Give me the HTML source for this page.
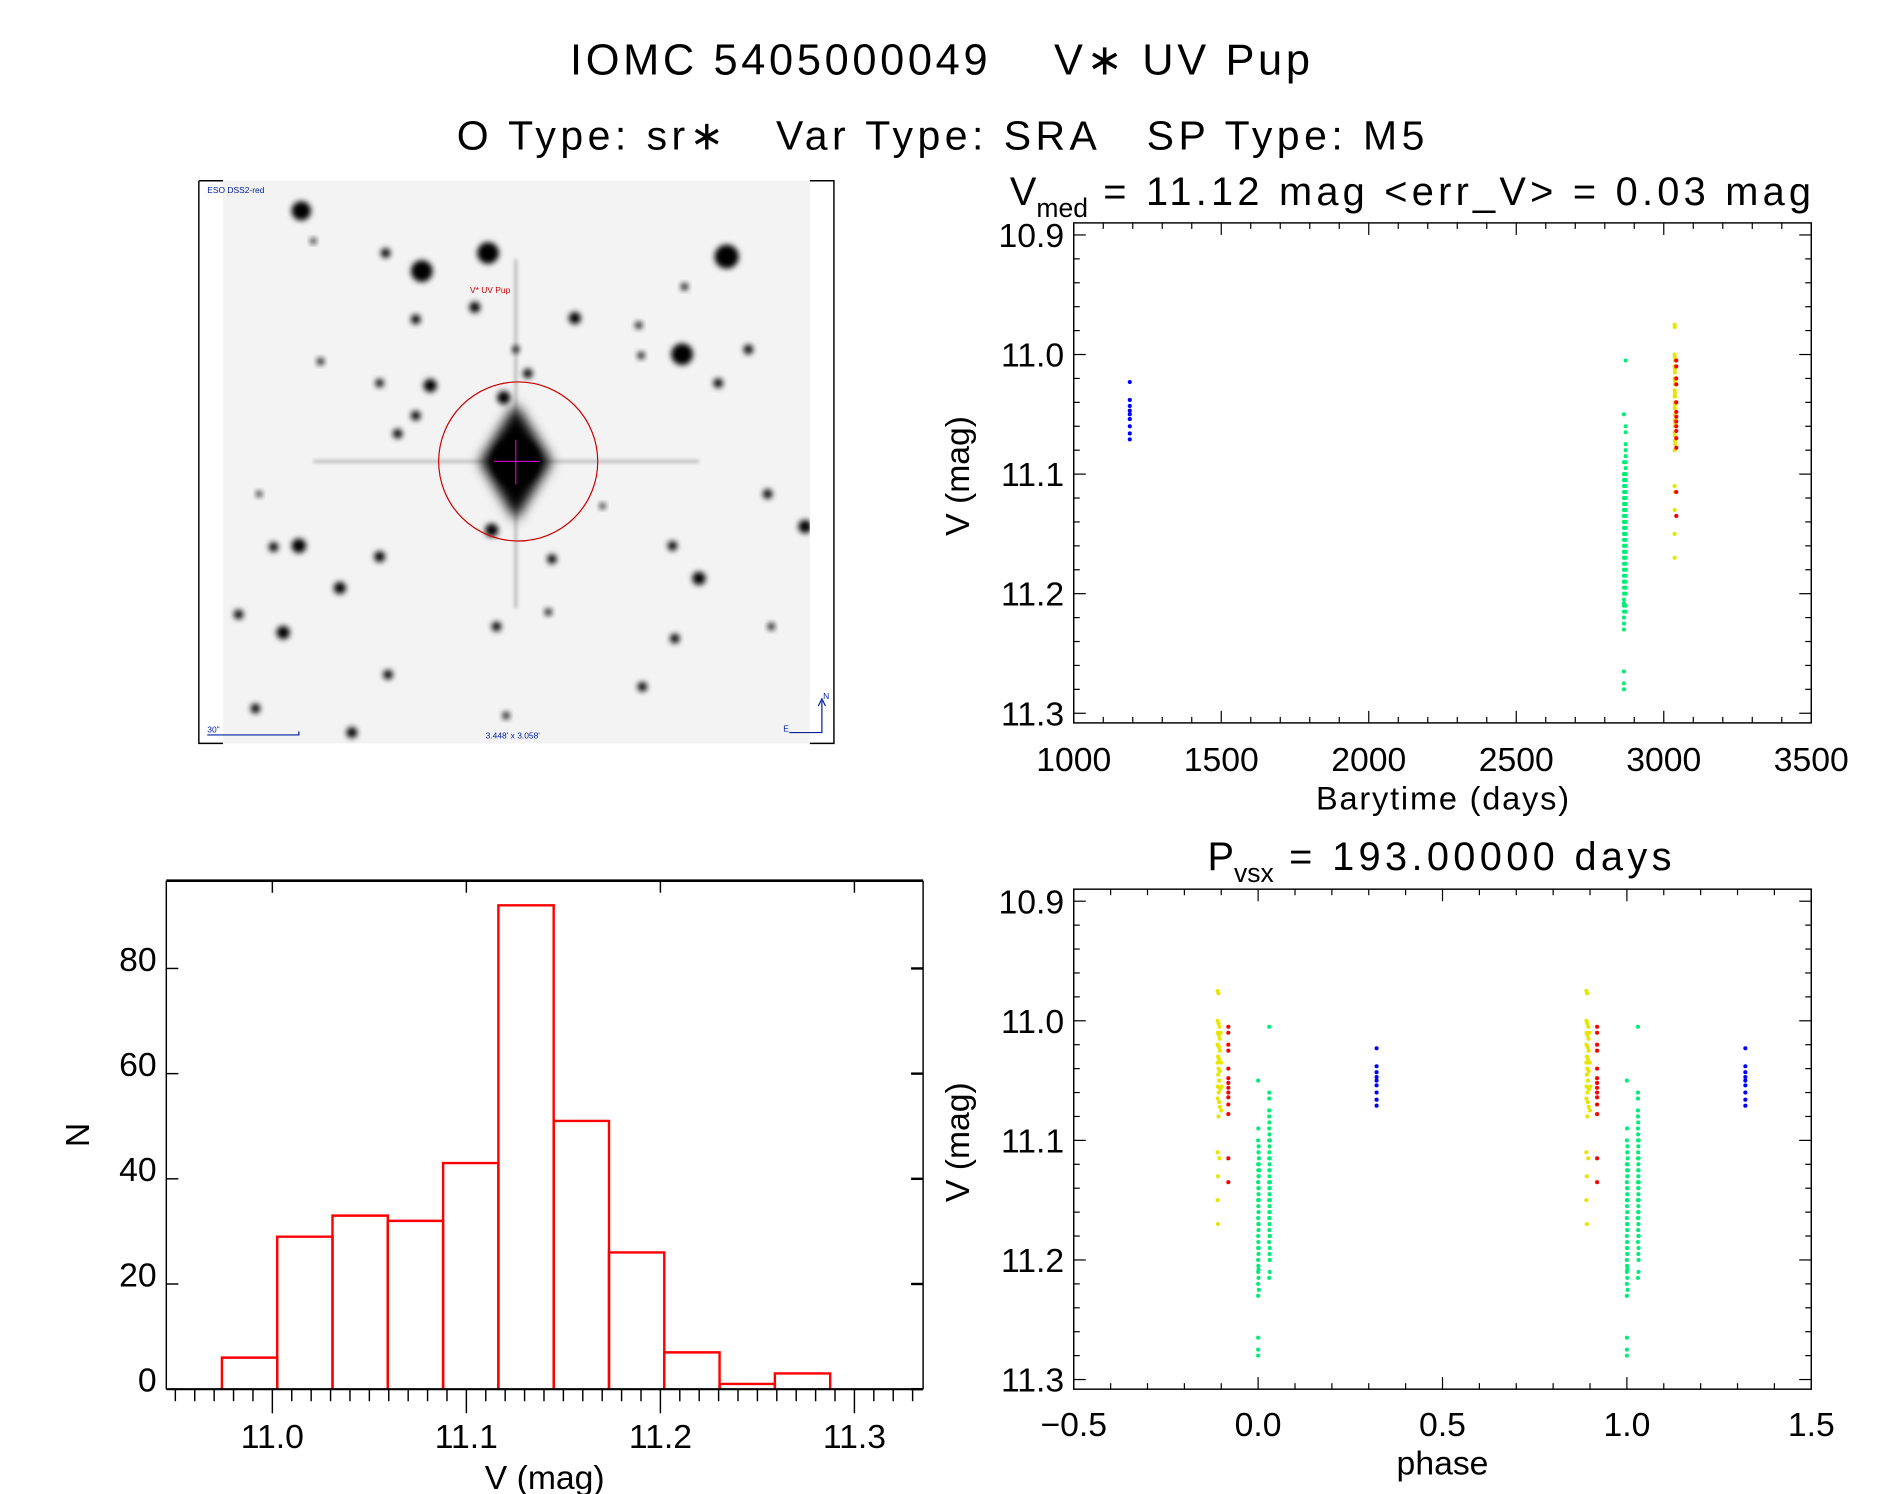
<!DOCTYPE html>
<html><head><meta charset="utf-8"><style>
html,body{margin:0;padding:0;background:#fff;}
svg{display:block;}
text{font-family:"Liberation Sans","DejaVu Sans",sans-serif;fill:#000;}
</style></head><body>
<svg id="fig" width="1889" height="1494" viewBox="0 0 1567.5 1240" preserveAspectRatio="none" xmlns="http://www.w3.org/2000/svg">
<defs>
<filter id="blur" x="-50%" y="-50%" width="200%" height="200%"><feGaussianBlur stdDeviation="2.4"/></filter>
<filter id="blur2" x="-50%" y="-50%" width="200%" height="200%"><feGaussianBlur stdDeviation="1.5"/></filter>
<filter id="blur3" x="-50%" y="-50%" width="200%" height="200%"><feGaussianBlur stdDeviation="5"/></filter>
<clipPath id="imgclip"><rect x="185" y="150" width="487" height="467"/></clipPath>
</defs>
<text x="473" y="62" font-size="36" textLength="614" lengthAdjust="spacing" xml:space="preserve">IOMC 5405000049    V∗ UV Pup</text>
<text x="379" y="124" font-size="34" textLength="803" lengthAdjust="spacing" xml:space="preserve">O Type: sr∗   Var Type: SRA   SP Type: M5</text>

<g id="sky">
<rect x="185" y="150" width="487" height="467" fill="#f3f3f3"/>
<g id="stars" clip-path="url(#imgclip)"></g>
<path d="M165 150 H185 M165 150 V617 H185 M672 150 H692 V617 H672" fill="none" stroke="#000" stroke-width="1.2"/>
<circle cx="430" cy="383" r="66" fill="none" stroke="#c00" stroke-width="1"/>
<path d="M410 383 H448 M428 365 V402" stroke="#c0c" stroke-width="1"/>
<text x="390" y="243" font-size="7" style="fill:#c00">V* UV Pup</text>
<text x="172" y="160" font-size="7" style="fill:#0020a0">ESO DSS2-red</text>
<text x="403" y="613" font-size="7" style="fill:#0020a0">3.448' x 3.058'</text>
<text x="172" y="608" font-size="7" style="fill:#0020a0">30"</text>
<path d="M172 610 H248 V607" stroke="#0020a0" fill="none" stroke-width="1"/>
<path d="M655 608 H682 V582 M679 586 L682 580 L685 586" stroke="#0020a0" fill="none" stroke-width="1"/>
<text x="683" y="580" font-size="7" style="fill:#0020a0">N</text>
<text x="650" y="607" font-size="7" style="fill:#0020a0">E</text>
</g>

<g id="lc"></g>
<g id="ph"></g>
<g id="hist"></g>
</svg>
<script>
// ---------- data ----------
const period = 193.0;
const epoch = 2865.0;
const blueObs = [[1190,11.023],[1190,11.038],[1190,11.043],[1190,11.047],[1190,11.050],[1190,11.054],[1190,11.060],[1190,11.066],[1190,11.071]];
const greenObs = [
[2865.0,11.05],[2865.1,11.09],[2865.0,11.10],[2865.2,11.11],[2865.0,11.12],[2865.1,11.125],[2865.2,11.13],[2865.0,11.135],[2865.1,11.14],[2865.2,11.145],
[2865.0,11.15],[2865.1,11.155],[2865.2,11.16],[2865.0,11.165],[2865.1,11.17],[2865.2,11.175],[2865.0,11.18],[2865.1,11.185],[2865.0,11.19],[2865.2,11.195],
[2865.0,11.20],[2865.1,11.205],[2865.0,11.21],[2865.0,11.22],[2865.2,11.215],[2865.0,11.23],[2865.0,11.265],[2865.0,11.275],[2865.0,11.28],[2865.3,11.105],
[2865.4,11.115],[2865.3,11.13],[2865.4,11.15],[2865.3,11.17],[2865.4,11.12],[2865.3,11.14],[2865.6,11.125],[2865.3,11.19],[2865.2,11.208],[2865.4,11.225],
[2870.8,11.005],[2870.8,11.06],[2870.8,11.065],[2870.8,11.075],[2870.8,11.08],[2870.8,11.09],[2870.9,11.095],[2870.8,11.10],[2871.0,11.105],[2870.9,11.11],
[2870.8,11.115],[2871.0,11.12],[2870.9,11.125],[2871.0,11.13],[2870.8,11.135],[2870.9,11.14],[2871.0,11.145],[2870.8,11.15],[2871.0,11.155],[2870.9,11.16],
[2870.8,11.165],[2871.0,11.17],[2870.9,11.175],[2871.0,11.18],[2870.8,11.185],[2871.2,11.10],[2871.1,11.14],[2871.2,11.18],[2871.1,11.2],[2871.1,11.19],
[2871.1,11.21],[2870.8,11.215],[2871.1,11.125],[2871.2,11.15],[2871.0,11.165],[2871.2,11.135],[2871.1,11.115],[2870.9,11.085],[2871.1,11.16],[2871.0,11.195]];
const yellowObs = [
[3036.8,10.975],[3037.2,10.977],[3036.8,11.0],[3037.3,11.002],[3037.8,11.005],[3036.9,11.01],[3037.4,11.012],[3037.9,11.015],[3036.8,11.02],[3037.5,11.022],
[3038.0,11.025],[3037.0,11.03],[3037.6,11.032],[3036.8,11.035],[3037.3,11.04],[3038.0,11.042],[3037.1,11.045],[3037.6,11.05],[3036.9,11.055],[3038.2,11.057],
[3037.4,11.06],[3036.8,11.065],[3037.6,11.068],[3038.0,11.072],[3037.3,11.08],[3036.8,11.11],[3037.8,11.115],[3037.0,11.13],[3036.8,11.15],[3037.0,11.17],
[3038.6,11.035],[3038.9,11.055],[3038.4,11.01],[3038.7,11.075]];
const redObs = [[3042.4,11.005],[3042.4,11.01],[3042.4,11.02],[3042.4,11.025],[3042.4,11.04],[3042.4,11.048],[3042.4,11.052],[3042.4,11.056],[3042.4,11.06],[3042.4,11.064],[3042.4,11.07],[3042.4,11.078],[3042.4,11.115],[3042.4,11.135]];
const lcXTicks = [1000,1500,2000,2500,3000,3500];
const magTicks = [10.9,11.0,11.1,11.2,11.3];
const phXTicks = [-0.5,0.0,0.5,1.0,1.5];
const histBinLefts = [10.974,11.0025,11.031,11.0595,11.088,11.1165,11.145,11.1735,11.202,11.2305,11.259];
const histBinWidth = 0.0285;
const histCounts = [6,29,33,32,43,92,51,26,7,1,3];
const histXTicks = [11.0,11.1,11.2,11.3];
const histYTicks = [0,20,40,60,80];
const stars = [[250,175,8],[350,225,9],[405,210,9],[603,213,10],[566,294,9],[477,264,5],[418,330,5.5],[408,440,5.5],[315,462,4.5],[248,453,6],[282,488,5],[235,525,5.5],[580,480,5.5],[558,453,4],[637,410,4],[668,437,5.5],[621,290,4],[596,318,4],[357,320,5.5],[345,345,4],[330,360,4],[315,318,3.5],[438,310,4],[458,464,4],[412,520,4],[322,560,4],[533,570,4],[292,608,4.5],[212,588,4],[198,510,4],[227,454,4],[345,265,4],[394,255,4.5],[532,295,3],[266,300,3],[428,290,3],[455,508,3],[500,420,2.5],[560,530,4],[530,270,3],[260,200,2.5],[640,520,3],[215,410,2.5],[320,210,4],[568,238,3],[420,594,3]];

const NS='http://www.w3.org/2000/svg';
function mk(parent,tag,attrs){const e=document.createElementNS(NS,tag);for(const k in attrs)e.setAttribute(k,attrs[k]);parent.appendChild(e);return e;}

// ---------- sky ----------
const sg=document.getElementById('stars');
mk(sg,'path',{d:'M260 383 H580 M428 215 V505',stroke:'#aaa','stroke-width':2,filter:'url(#blur2)'});
mk(sg,'path',{d:'M428 335 L458 383 L428 432 L398 383 Z',fill:'#000',filter:'url(#blur3)'});
for(const s of stars){const c=mk(sg,'circle',{cx:s[0],cy:s[1],r:s[2],fill:'#000',filter:'url(#blur)'});

}
mk(sg,'circle',{cx:428,cy:383,r:20,fill:'#000',filter:'url(#blur)'});

// ---------- generic axes ----------
function frame(g,x0,y0,x1,y1){mk(g,'rect',{x:x0,y:y0,width:x1-x0,height:y1-y0,fill:'none',stroke:'#000','stroke-width':1.2});}
function magAxis(g,x0,x1,top,bot,yfun){
  for(let v=10.9;v<=11.3001;v+=0.02){const y=yfun(v);const maj=Math.abs(v*10-Math.round(v*10))<0.01;const L=maj?10:5;
    mk(g,'line',{x1:x0,y1:y,x2:x0+L,y2:y,stroke:'#000','stroke-width':1});mk(g,'line',{x1:x1,y1:y,x2:x1-L,y2:y,stroke:'#000','stroke-width':1});}
  for(const t of magTicks){const tx=mk(g,'text',{x:x0-8,y:yfun(t)+10,'font-size':28,'text-anchor':'end'});tx.textContent=t.toFixed(1);
    
    }
}
function dots(g,pts,xf,yf,col){for(const p of pts){const c=mk(g,'circle',{cx:xf(p[0]),cy:yf(p[1]),r:1.7,fill:col});
  
  }}

// ---------- light curve ----------
(function(){
const g=document.getElementById('lc');const X0=891,X1=1503,T=185,B=600;
const xs=v=>X0+(v-1000)/2500*(X1-X0);const ys=v=>195+(v-10.9)/0.4*397;
frame(g,X0,T,X1,B);
for(let v=1000;v<=3500;v+=100){const x=xs(v);const L=(v%500===0)?10:5;
 mk(g,'line',{x1:x,y1:B,x2:x,y2:B-L,stroke:'#000'});mk(g,'line',{x1:x,y1:T,x2:x,y2:T+L,stroke:'#000'});}
for(const t of lcXTicks){const tx=mk(g,'text',{x:xs(t),y:640,'font-size':28,'text-anchor':'middle'});tx.textContent=t;
 
 }
magAxis(g,X0,X1,T,B,ys);
dots(g,blueObs,xs,ys,'#0000ff');dots(g,greenObs,xs,ys,'#00ee77');dots(g,yellowObs,xs,ys,'#e6e600');dots(g,redObs,xs,ys,'#ff0000');
const xl=mk(g,'text',{x:1092,y:672,'font-size':27,textLength:210,lengthAdjust:'spacing'});xl.textContent='Barytime (days)';

const yl=mk(g,'text',{x:0,y:0,'font-size':28,'text-anchor':'middle',transform:'translate(804,395) rotate(-90)'});yl.textContent='V (mag)';

const tt=mk(g,'text',{x:838,y:170,'font-size':33});tt.innerHTML='V<tspan font-size="22" dy="10">med</tspan><tspan dy="-10" textLength="600" lengthAdjust="spacing"> = 11.12 mag &lt;err_V&gt; = 0.03 mag</tspan>';

})();

// ---------- phase plot ----------
(function(){
const g=document.getElementById('ph');const X0=891,X1=1503,T=738,B=1153;
const xs=v=>X0+(v+0.5)/2*(X1-X0);const ys=v=>748+(v-10.9)/0.4*397;
frame(g,X0,T,X1,B);
for(let i=0;i<=20;i++){const v=-0.5+i*0.1;const x=xs(v);const L=(i%5===0)?10:5;
 mk(g,'line',{x1:x,y1:B,x2:x,y2:B-L,stroke:'#000'});mk(g,'line',{x1:x,y1:T,x2:x,y2:T+L,stroke:'#000'});}
for(const t of phXTicks){const tx=mk(g,'text',{x:xs(t),y:1192,'font-size':28,'text-anchor':'middle'});tx.textContent=(t<0?'\u2212':'')+Math.abs(t).toFixed(1);
 
 }
magAxis(g,X0,X1,T,B,ys);
function phased(obs){const out=[];for(const o of obs){let p=((o[0]-epoch)/period)%1;if(p<0)p+=1;for(const k of [-1,0,1]){const q=p+k;if(q>=-0.5&&q<=1.5)out.push([q,o[1]]);}}return out;}
dots(g,phased(blueObs),xs,ys,'#0000ff');dots(g,phased(greenObs),xs,ys,'#00ee77');dots(g,phased(yellowObs),xs,ys,'#e6e600');dots(g,phased(redObs),xs,ys,'#ff0000');
const xl=mk(g,'text',{x:1197,y:1224,'font-size':28,'text-anchor':'middle'});xl.textContent='phase';

const yl=mk(g,'text',{x:0,y:0,'font-size':28,'text-anchor':'middle',transform:'translate(804,948) rotate(-90)'});yl.textContent='V (mag)';

const tt=mk(g,'text',{x:1002,y:722,'font-size':33});tt.innerHTML='P<tspan font-size="22" dy="10">vsx</tspan><tspan dy="-10" textLength="330" lengthAdjust="spacing"> = 193.00000 days</tspan>';

})();

// ---------- histogram ----------
(function(){
const g=document.getElementById('hist');const X0=138,X1=766,T=731,B=1153;
const xs=v=>226+(v-11.0)/0.1*161;const ys=v=>B-v*4.365;
for(let i=0;i<histCounts.length;i++){const x0=xs(histBinLefts[i]),x1=xs(histBinLefts[i]+histBinWidth);const y=ys(histCounts[i]);
 const r=mk(g,'path',{d:`M${x0} ${B} V${y} H${x1} V${B}`,fill:'none',stroke:'#ff0000','stroke-width':2});
 
 }
mk(g,'line',{x1:X0,y1:T,x2:X1,y2:T,stroke:'#000','stroke-width':2.2});
mk(g,'line',{x1:X0,y1:T,x2:X0,y2:B,stroke:'#000','stroke-width':1.2});
mk(g,'line',{x1:X1,y1:T,x2:X1,y2:B,stroke:'#000','stroke-width':1.2});
mk(g,'line',{x1:X0,y1:B,x2:X1,y2:B,stroke:'#000','stroke-width':1.8});
for(let k=-5;k<=33;k++){const v=11.0+k*0.01;const x=xs(v);if(x<X0||x>X1)continue;const maj=(k%10===0);
 mk(g,'line',{x1:x,y1:B,x2:x,y2:B+(maj?20:10),stroke:'#000','stroke-width':1.2});
 if(maj)mk(g,'line',{x1:x,y1:T,x2:x,y2:T+10,stroke:'#000','stroke-width':1.2});}
for(const t of histYTicks){const y=ys(t);mk(g,'line',{x1:X0,y1:y,x2:X0+10,y2:y,stroke:'#000','stroke-width':1.2});mk(g,'line',{x1:X1,y1:y,x2:X1-10,y2:y,stroke:'#000','stroke-width':2});
 const tx=mk(g,'text',{x:X0-8,y:y+2,'font-size':28,'text-anchor':'end'});tx.textContent=t;
 
 }
for(const t of histXTicks){const tx=mk(g,'text',{x:xs(t),y:1202,'font-size':28,'text-anchor':'middle'});tx.textContent=t.toFixed(1);
 
 }
const xl=mk(g,'text',{x:452,y:1236,'font-size':28,'text-anchor':'middle'});xl.textContent='V (mag)';

const yl=mk(g,'text',{x:0,y:0,'font-size':28,'text-anchor':'middle',transform:'translate(74,942) rotate(-90)'});yl.textContent='N';

})();
</script>
</body></html>
